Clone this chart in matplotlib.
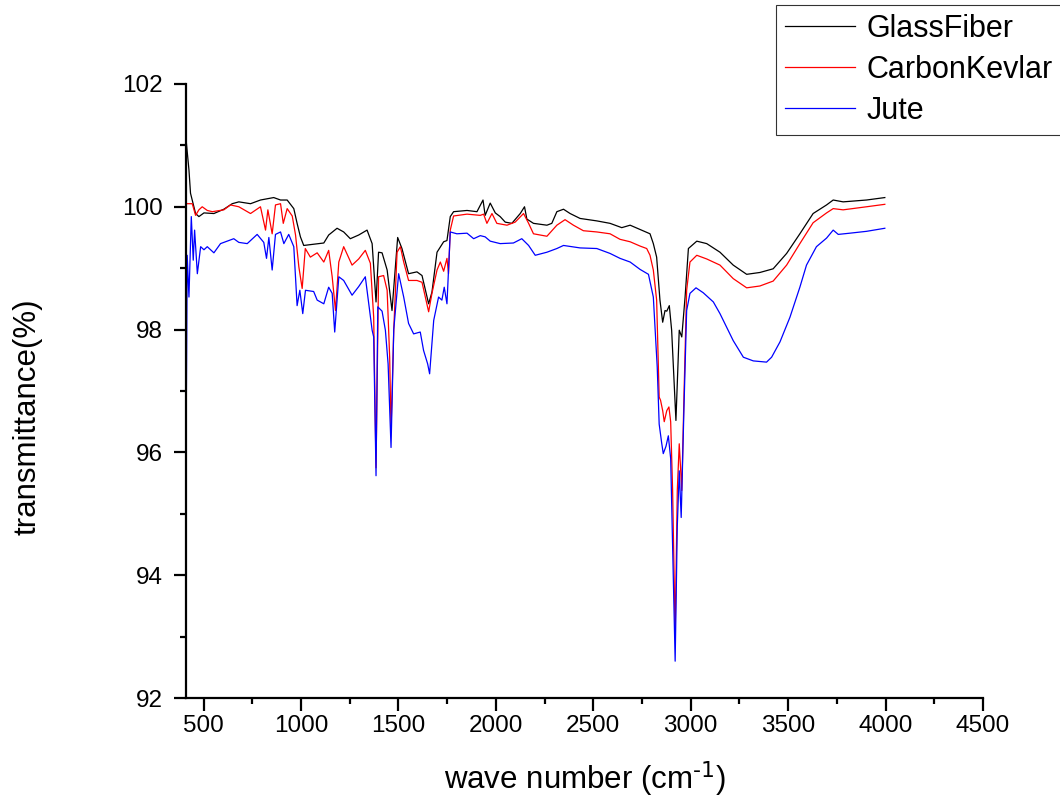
import matplotlib

matplotlib.use("Agg")
import matplotlib.pyplot as plt
from matplotlib.ticker import MultipleLocator

plt.rcParams["font.family"] = ["Liberation Sans", "DejaVu Sans"]

# FTIR spectra (wavenumber in cm-1, transmittance in %)
wn_glass = [410, 425, 433, 459, 476, 502, 553, 604, 647, 681, 741, 792, 860, 895, 929, 963, 980, 997,
            1014, 1065, 1117, 1142, 1185, 1219, 1253, 1296, 1339, 1365, 1385, 1398, 1416, 1442, 1467,
            1496, 1518, 1552, 1595, 1621, 1655, 1672, 1698, 1732, 1749, 1766, 1783, 1852, 1903, 1934,
            1945, 1971, 1997, 2022, 2048, 2082, 2125, 2147, 2159, 2193, 2262, 2287, 2313, 2347, 2381,
            2432, 2518, 2586, 2646, 2689, 2740, 2791, 2808, 2825, 2842, 2856, 2868, 2877, 2890, 2902,
            2924, 2941, 2954, 2971, 2988, 3031, 3082, 3150, 3218, 3287, 3355, 3423, 3492, 3560, 3628,
            3697, 3731, 3782, 3902, 3996]
t_glass = [101.1, 100.6, 100.22, 99.89, 99.84, 99.90, 99.89, 99.96, 100.05, 100.08, 100.05, 100.11,
           100.15, 100.11, 100.11, 99.97, 99.73, 99.51, 99.37, 99.39, 99.41, 99.54, 99.65, 99.59, 99.48,
           99.54, 99.62, 99.40, 98.45, 99.26, 99.25, 98.97, 98.31, 99.50, 99.32, 98.91, 98.94, 98.88,
           98.42, 98.61, 99.26, 99.43, 99.45, 99.84, 99.92, 99.94, 99.92, 100.11, 99.86, 100.06, 99.90,
           99.84, 99.75, 99.73, 99.89, 100.0, 99.80, 99.73, 99.70, 99.73, 99.92, 99.96, 99.89, 99.81,
           99.77, 99.73, 99.66, 99.70, 99.63, 99.56, 99.40, 99.18, 98.48, 98.12, 98.31, 98.30, 98.39,
           97.99, 96.52, 97.99, 97.88, 98.53, 99.32, 99.44, 99.40, 99.26, 99.05, 98.90, 98.93, 98.99,
           99.24, 99.56, 99.89, 100.03, 100.11, 100.08, 100.11, 100.15]

wn_carbon = [410, 442, 459, 476, 493, 519, 545, 604, 638, 681, 741, 792, 818, 830, 852, 869, 895, 909,
             929, 955, 972, 989, 1006, 1022, 1048, 1083, 1117, 1142, 1160, 1177, 1194, 1219, 1262, 1296,
             1330, 1356, 1373, 1385, 1398, 1424, 1442, 1455, 1462, 1476, 1493, 1510, 1527, 1552, 1595,
             1621, 1655, 1672, 1698, 1715, 1732, 1749, 1757, 1766, 1783, 1852, 1920, 1937, 1954, 1980,
             2005, 2057, 2099, 2142, 2168, 2193, 2262, 2313, 2355, 2398, 2449, 2518, 2586, 2637, 2689,
             2740, 2774, 2791, 2808, 2825, 2838, 2845, 2856, 2864, 2877, 2888, 2897, 2907, 2920, 2931,
             2941, 2954, 2966, 2979, 2996, 3031, 3082, 3150, 3218, 3287, 3355, 3423, 3492, 3560, 3628,
             3697, 3731, 3782, 3902, 3996]
t_carbon = [100.05, 100.05, 99.86, 99.95, 100.0, 99.94, 99.92, 99.95, 100.03, 100.0, 99.89, 100.0,
            99.62, 99.95, 99.56, 100.03, 100.05, 99.73, 99.97, 99.85, 99.54, 99.02, 98.67, 99.32, 99.18,
            99.25, 99.10, 99.29, 98.86, 98.31, 99.10, 99.35, 99.05, 99.15, 99.29, 99.08, 98.20, 95.75,
            98.86, 98.88, 98.64, 97.55, 96.36, 98.0, 99.26, 99.35, 99.10, 98.80, 98.80, 98.77, 98.29,
            98.59, 98.97, 99.10, 98.95, 99.16, 98.91, 99.62, 99.85, 99.88, 99.86, 99.88, 99.73, 99.89,
            99.73, 99.70, 99.75, 99.89, 99.73, 99.56, 99.52, 99.70, 99.79, 99.70, 99.61, 99.59, 99.56,
            99.47, 99.43, 99.36, 99.32, 99.21, 98.97, 98.48, 96.90, 96.85, 96.68, 96.50, 96.68, 96.74,
            96.50, 95.38, 93.04, 95.38, 96.14, 95.38, 97.01, 98.64, 99.10, 99.21, 99.15, 99.05, 98.83,
            98.68, 98.71, 98.79, 99.05, 99.40, 99.74, 99.90, 99.97, 99.95, 100.0, 100.04]

wn_jute = [410, 416, 425, 437, 447, 454, 468, 485, 502, 519, 553, 587, 655, 681, 724, 775, 809, 823, 835,
           852, 869, 895, 912, 937, 963, 980, 994, 1009, 1023, 1065, 1083, 1117, 1142, 1160, 1173, 1194,
           1219, 1262, 1296, 1330, 1365, 1373, 1385, 1394, 1416, 1433, 1447, 1462, 1476, 1501, 1527,
           1552, 1578, 1612, 1629, 1650, 1660, 1681, 1706, 1723, 1735, 1749, 1766, 1800, 1852, 1886,
           1920, 1945, 1971, 2022, 2090, 2133, 2168, 2202, 2262, 2313, 2347, 2432, 2518, 2586, 2637,
           2689, 2740, 2783, 2808, 2828, 2838, 2851, 2859, 2873, 2885, 2897, 2920, 2931, 2941, 2951,
           2965, 2979, 2996, 3027, 3064, 3116, 3150, 3218, 3270, 3321, 3389, 3415, 3458, 3509, 3560,
           3594, 3645, 3697, 3731, 3757, 3817, 3902, 3996]
t_jute = [96.0, 99.21, 98.53, 99.84, 99.13, 99.62, 98.91, 99.35, 99.30, 99.35, 99.25, 99.40, 99.48,
          99.42, 99.40, 99.55, 99.42, 99.16, 99.50, 98.97, 99.55, 99.59, 99.40, 99.55, 99.35, 98.39,
          98.64, 98.26, 98.64, 98.62, 98.48, 98.42, 98.69, 98.59, 97.96, 98.86, 98.80, 98.56, 98.70,
          98.86, 97.99, 97.88, 95.62, 98.37, 98.30, 97.99, 97.44, 96.08, 98.0, 98.91, 98.53, 98.10,
          97.93, 97.96, 97.66, 97.44, 97.28, 98.15, 98.53, 98.48, 98.69, 98.42, 99.59, 99.56, 99.57,
          99.48, 99.53, 99.51, 99.44, 99.40, 99.41, 99.48, 99.37, 99.21, 99.26, 99.32, 99.37, 99.33,
          99.32, 99.24, 99.16, 99.10, 98.98, 98.90, 98.53, 97.39, 96.46, 96.15, 95.98, 96.10, 96.27,
          95.90, 92.60, 94.80, 95.70, 94.94, 96.70, 98.31, 98.59, 98.68, 98.60, 98.45, 98.26, 97.82,
          97.55, 97.49, 97.47, 97.55, 97.80, 98.20, 98.69, 99.05, 99.35, 99.49, 99.62, 99.55, 99.57,
          99.60, 99.65]

series = [
    ("GlassFiber", wn_glass, t_glass, "black"),
    ("CarbonKevlar", wn_carbon, t_carbon, "#ff0000"),
    ("Jute", wn_jute, t_jute, "#0000ff"),
]

fig = plt.figure(figsize=(10.6, 8.05), dpi=100)
ax = fig.add_axes([0.1755, 0.1329, 0.7519, 0.7628])

handles = []
for label, wn, t, color in series:
    (h,) = ax.plot(wn, t, color=color, lw=0.9, label=label)
    handles.append(h)

ax.set_xlim(410, 4500)
ax.set_ylim(92, 102)
ax.xaxis.set_major_locator(MultipleLocator(500))
ax.xaxis.set_minor_locator(MultipleLocator(250))
ax.yaxis.set_major_locator(MultipleLocator(2))
ax.yaxis.set_minor_locator(MultipleLocator(1))

for side in ("top", "right"):
    ax.spines[side].set_visible(False)
for side in ("left", "bottom"):
    ax.spines[side].set_linewidth(1.6)

ax.tick_params(which="major", direction="out", length=9, width=1.6, labelsize=17.5)
ax.tick_params(which="minor", direction="out", length=4.5, width=1.6)
ax.tick_params(axis="y", which="major", pad=8)
ax.tick_params(axis="x", which="major", pad=3)

ax.set_xlabel(r"wave number (cm$^{\text{-1}}$)", fontsize=22.5)
ax.set_ylabel("transmittance(%)", fontsize=22.5)
ax.xaxis.set_label_coords(0.5, -0.100)
ax.yaxis.set_label_coords(-0.18, 0.458)

leg = fig.legend(
    handles,
    [s[0] for s in series],
    loc="upper left",
    bbox_to_anchor=(776 / 1060, 1 - 5 / 805),
    fontsize=22,
    frameon=True,
    fancybox=False,
    borderpad=0.3,
    labelspacing=0.36,
    handlelength=2.3,
    handletextpad=0.36,
    borderaxespad=0,
)
leg.get_frame().set_edgecolor("black")
leg.get_frame().set_linewidth(0.8)

fig.savefig("out.png", dpi=100)
